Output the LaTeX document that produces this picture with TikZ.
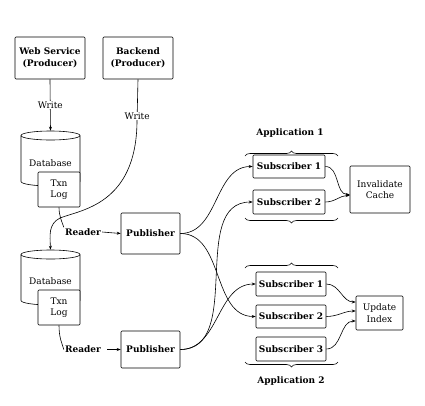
\documentclass[tikz,border=0pt]{standalone}
\usepackage{fontspec}
\setmainfont{DejaVu Serif}
\usetikzlibrary{arrows.meta,decorations.pathreplacing}
\begin{document}
\begin{tikzpicture}[x=1pt,y=-1pt,
  box/.style={draw,rounded corners=1pt,fill=white,inner sep=1pt,align=center},
  bl/.style={font=\fontsize{9}{11.5}\selectfont\bfseries},
  rg/.style={font=\fontsize{9}{11.5}\selectfont},
  arr/.style={-{Stealth[length=4pt,width=3pt]}},
  brc/.style={decorate,decoration={brace,amplitude=5pt}},
  dbhold/.style={inner sep=0pt,minimum width=59pt,minimum height=55pt},
  every path/.style={line width=0.6pt}]
\useasboundingbox (0,0) rectangle (425,405);
% producers
\node[box,bl,minimum width=70pt,minimum height=42pt] (ws) at (50,58) {Web Service\\(Producer)};
\node[box,bl,minimum width=70pt,minimum height=42pt] (be) at (138,58) {Backend\\(Producer)};
% databases
\node[dbhold] (db1) at (50.5,158.5) {};
\draw[fill=white] (21,135.5) -- (21,181.5) arc[start angle=180,end angle=0,x radius=29.5,y radius=4.5] -- (80,135.5);
\draw (50.5,135.5) ellipse[x radius=29.5,y radius=4.5];
\node[rg] (dbl1) at (50.5,163) {Database};
\node[box,rg,minimum width=42pt,minimum height=35pt] (txn1) at (59,189.5) {Txn\\Log};
\node[dbhold] (db2) at (50.5,277.5) {};
\draw[fill=white] (21,254.5) -- (21,300.5) arc[start angle=180,end angle=0,x radius=29.5,y radius=4.5] -- (80,254.5);
\draw (50.5,254.5) ellipse[x radius=29.5,y radius=4.5];
\node[rg] (dbl2) at (50.5,281) {Database};
\node[box,rg,minimum width=42pt,minimum height=35pt] (txn2) at (59,307.5) {Txn\\Log};
% publishers
\node[box,bl,minimum width=59pt,minimum height=41pt] (pub1) at (150.5,233.5) {Publisher};
\node[box,bl,minimum width=59pt,minimum height=37pt] (pub2) at (150.5,349.5) {Publisher};
\node[bl,inner sep=1pt] (rd1) at (83,232) {Reader};
\node[bl,inner sep=1pt] (rd2) at (83,349.5) {Reader};
% subscribers
\node[box,bl,minimum width=72pt,minimum height=23pt] (a1s1) at (289,166.5) {Subscriber 1};
\node[box,bl,minimum width=72pt,minimum height=24pt] (a1s2) at (289,202) {Subscriber 2};
\node[box,rg,minimum width=60pt,minimum height=47pt] (cache) at (380,189.5) {Invalidate\\Cache};
\node[box,bl,minimum width=70pt,minimum height=24pt] (a2s1) at (291,284) {Subscriber 1};
\node[box,bl,minimum width=70pt,minimum height=23pt] (a2s2) at (291,316.5) {Subscriber 2};
\node[box,bl,minimum width=70pt,minimum height=24pt] (a2s3) at (291,349) {Subscriber 3};
\node[box,rg,minimum width=47pt,minimum height=34pt] (idx) at (379.5,313) {Update\\Index};
\node[bl] (app1) at (290,133) {Application 1};
\node[bl] (app2) at (291,381) {Application 2};
% braces
\coordinate (b1a) at (245,156); \coordinate (b1b) at (338,156);
\coordinate (b2a) at (338,218); \coordinate (b2b) at (245,218);
\coordinate (b3a) at (245,268); \coordinate (b3b) at (338,268);
\coordinate (b4a) at (338,362); \coordinate (b4b) at (245,362);
\draw[brc] (b1a) -- (b1b);
\draw[brc] (b2a) -- (b2b);
\draw[brc] (b3a) -- (b3b);
\draw[brc] (b4a) -- (b4b);
% writes
\draw[arr] (ws.south) -- node[rg,fill=white,inner sep=1pt] {Write} (db1.north);
\coordinate (jn) at (60,218);
\coordinate (bv) at (137,122);
\draw (be.south) -- node[rg,fill=white,inner sep=1pt,pos=0.86] {Write} (bv);
\draw[arr] (bv) .. controls (136,205) and (80,210) .. (jn) .. controls (48,224) and (50,236) .. (db2.north);
% readers
\draw (txn1.south) .. controls (59,216) and (62,222) .. (rd1.north west);
\draw[arr] (rd1.east) -- (pub1.west);
\draw (txn2.south) .. controls (59,338) and (62,343) .. (rd2.west);
\draw[arr] ([xshift=5pt]rd2.east) -- (pub2.west);
% publish
\draw[arr] (pub1.east) to[out=0,in=180] (a1s1.west);
\draw[arr] (pub1.east) to[out=0,in=180] (a2s2.west);
\draw[arr] (pub2.east) to[out=0,in=180] (a1s2.west);
\draw[arr] (pub2.east) to[out=0,in=180] (a2s1.west);
% subscribers to actions
\draw[arr] (a1s1.east) to[out=0,in=180] ([yshift=-5pt]cache.west);
\draw[arr] (a1s2.east) to[out=0,in=180] ([yshift=-6pt]cache.west);
\draw[arr] (a2s1.east) to[out=0,in=180] ([yshift=11pt]idx.west);
\draw[arr] (a2s2.east) to[out=0,in=180] ([yshift=2pt]idx.west);
\draw[arr] (a2s3.east) to[out=0,in=180] ([yshift=-8pt]idx.west);
\end{tikzpicture}
\end{document}
